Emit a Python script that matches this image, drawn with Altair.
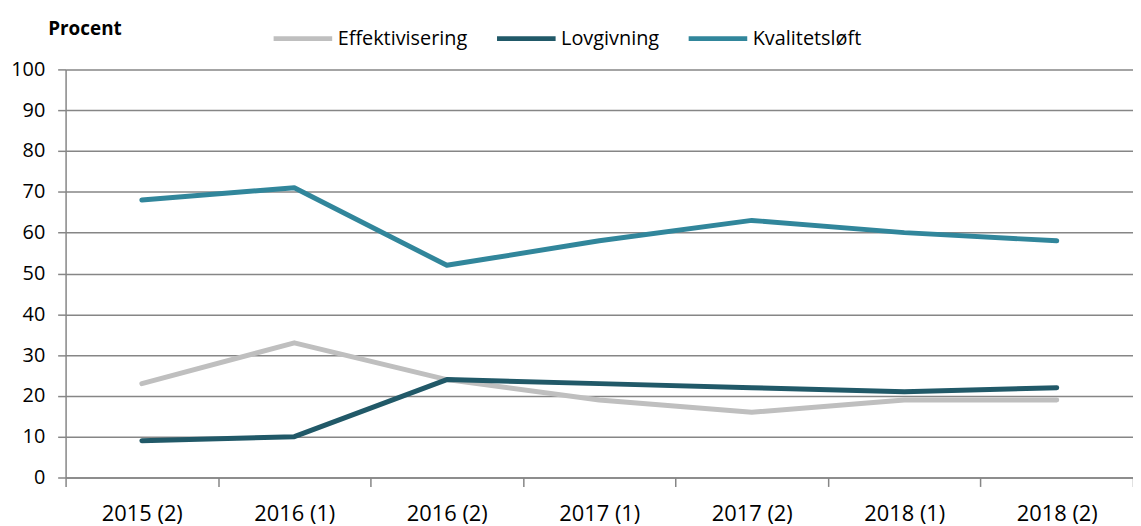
import altair as alt
import pandas as pd

periods = ["2015 (2)", "2016 (1)", "2016 (2)", "2017 (1)", "2017 (2)", "2018 (1)", "2018 (2)"]
series_names = ["Effektivisering", "Lovgivning", "Kvalitetsløft"]
effektivisering = [23, 33, 24, 19, 16, 19, 19]
lovgivning = [9, 10, 24, 23, 22, 21, 22]
kvalitetsloft = [68, 71, 52, 58, 63, 60, 58]
colors = ["#BFBFBF", "#215968", "#31869B"]

rows = []
for name, vals in zip(series_names, [effektivisering, lovgivning, kvalitetsloft]):
    for i, (p, v) in enumerate(zip(periods, vals)):
        rows.append({"Periode": p, "Serie": name, "Verdi": v, "order": i})
df = pd.DataFrame(rows)

FONT = "Open Sans"

chart = alt.Chart(df).mark_line(strokeWidth=5, strokeCap="round", strokeJoin="round").encode(
    x=alt.X("Periode:N", sort=periods,
            scale=alt.Scale(paddingInner=0, paddingOuter=0),
            axis=alt.Axis(title=None, labelAngle=0, tickBand="extent", grid=False,
                          domainColor="#868686", domainWidth=1.5,
                          tickColor="#868686", tickWidth=1.5, tickSize=9,
                          labelFontSize=22, labelFont=FONT, labelColor="#000000",
                          labelPadding=17)),
    y=alt.Y("Verdi:Q", scale=alt.Scale(domain=[0, 100]),
            axis=alt.Axis(values=list(range(0, 101, 10)), title="Procent",
                          titleAngle=0, titleAlign="left", titleBaseline="middle",
                          titleX=-18, titleY=-41, titleFont=FONT, titleFontSize=19,
                          titleFontWeight="bold", titleColor="#000000",
                          grid=True, gridColor="#868686", gridWidth=1.5,
                          domainColor="#868686", domainWidth=1.5,
                          tickColor="#868686", tickWidth=1.5, tickSize=8,
                          labelFontSize=20, labelFont=FONT, labelColor="#000000",
                          labelPadding=13)),
    color=alt.Color("Serie:N", sort=series_names,
                    scale=alt.Scale(domain=series_names, range=colors),
                    legend=alt.Legend(title=None, orient="none", direction="horizontal",
                                      legendX=207, legendY=-63,
                                      symbolType="stroke", symbolSize=3481,
                                      symbolStrokeWidth=5, labelOffset=3,
                                      columnPadding=19, labelFont=FONT,
                                      labelFontSize=20, labelColor="#000000")),
    order="order:Q",
).properties(
    width=1075, height=411,
    autosize=alt.AutoSizeParams(type="none"),
    padding={"left": 58, "top": 60, "right": 0, "bottom": 47},
).configure_view(stroke=None)

chart.save("out.html", embed_options={"renderer": "svg", "actions": False})
